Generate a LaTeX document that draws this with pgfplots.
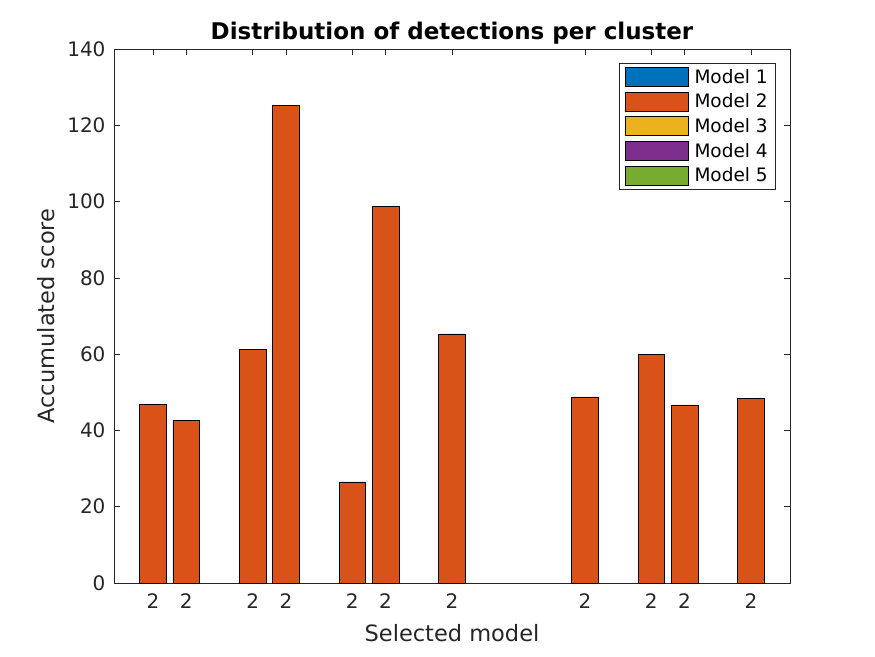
\documentclass[border=0pt]{standalone}
\usepackage{pgfplots}
\pgfplotsset{compat=1.18}
\usepackage{fontspec}
\setmainfont{DejaVu Sans}
\definecolor{c1}{rgb}{0,0.447,0.741}
\definecolor{c2}{rgb}{0.85,0.325,0.098}
\definecolor{c3}{rgb}{0.929,0.694,0.125}
\definecolor{c4}{rgb}{0.494,0.184,0.556}
\definecolor{c5}{rgb}{0.466,0.674,0.188}
\definecolor{axgray}{rgb}{0.15,0.15,0.15}
\begin{document}
\begin{tikzpicture}
\begin{axis}[
  scale only axis,
  width=676pt, height=534pt,
  xmin=-0.174, xmax=20.174,
  ymin=0, ymax=140,
  xtick={1,2,4,5,7,8,10,14,16,17,19},
  xticklabels={2,2,2,2,2,2,2,2,2,2,2},
  ytick={0,20,40,60,80,100,120,140},
  tick align=inside,
  major tick length=6pt,
  tick style={axgray, line width=0.6pt},
  axis line style={axgray, line width=0.6pt},
  ticklabel style={font=\fontsize{20}{24}\selectfont, text=axgray},
  xticklabel style={yshift=-7pt},
  yticklabel style={xshift=-5pt},
  /pgf/number format/assume math mode=true,
  xtick pos=both, ytick pos=both,
  xlabel={Selected model},
  ylabel={Accumulated score},
  label style={font=\fontsize{22.5}{27}\selectfont, text=axgray},
  xlabel style={yshift=-9pt},
  ylabel style={yshift=6pt},
  title={\textbf{Distribution of detections per cluster}},
  title style={font=\fontsize{23}{27}\selectfont, yshift=-5pt},
  legend style={at={(1,1)}, anchor=north east, xshift=-14pt, yshift=-14pt,
    font=\fontsize{18.5}{22}\selectfont, draw=axgray, line width=0.6pt,
    row sep=5pt, inner xsep=6pt, inner ysep=4pt, cells={anchor=west}},
  legend cell align=left,
  legend image code/.code={\draw[#1, draw=black, line width=0.6pt] (0pt,-9.5pt) rectangle (63pt,9.5pt); \path (67pt,0pt);},
]
\addlegendimage{fill=c1}
\addlegendentry{Model 1}
\addplot[ybar, bar width=0.8, bar shift=0pt, fill=c2, draw=black, line width=0.6pt] coordinates {
(1,46.9) (2,42.7) (4,61.3) (5,125.3) (7,26.5) (8,98.8) (10,65.3) (14,48.8) (16,60.0) (17,46.7) (19,48.5)
};
\addlegendentry{Model 2}
\addlegendimage{fill=c3}
\addlegendentry{Model 3}
\addlegendimage{fill=c4}
\addlegendentry{Model 4}
\addlegendimage{fill=c5}
\addlegendentry{Model 5}
\end{axis}
\path (current axis.south west) ++(-114pt,-73pt) rectangle ++(875pt,656pt);
\end{tikzpicture}
\end{document}
